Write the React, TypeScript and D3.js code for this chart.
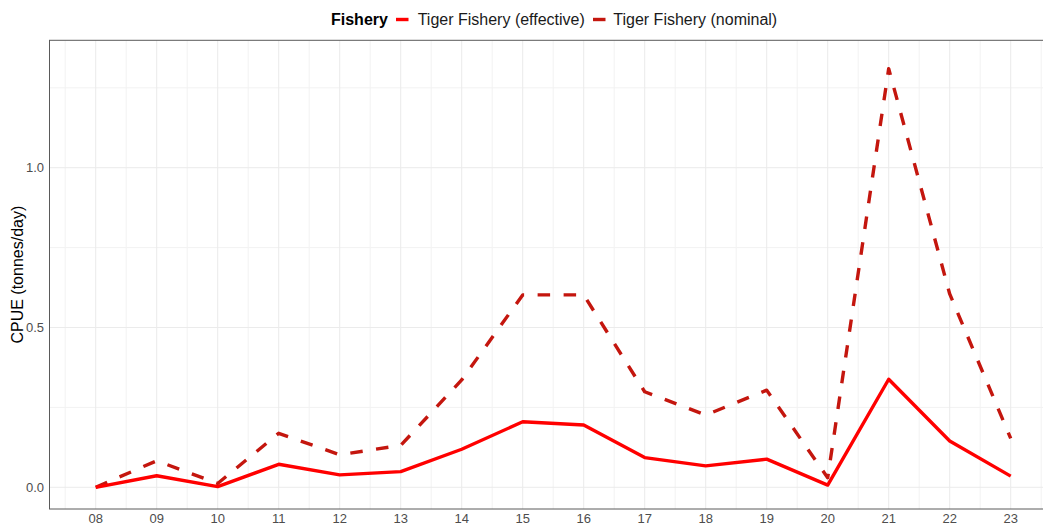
import React from "react";
import * as d3 from "d3";

const years = ["08","09","10","11","12","13","14","15","16","17","18","19","20","21","22","23"];
const effective = [0.0,0.036,0.002,0.072,0.039,0.049,0.119,0.205,0.195,0.093,0.067,0.088,0.007,0.338,0.145,0.035];
const nominal = [0.0,0.083,0.012,0.169,0.102,0.131,0.336,0.602,0.602,0.299,0.226,0.304,0.03,1.31,0.605,0.153];
const yTicks = [0, 0.5, 1.0];
const yMinor = [0.25, 0.75, 1.25];
const seriesNames = ["Tiger Fishery (effective)", "Tiger Fishery (nominal)"];

const W = 1043, H = 527;
const left = 49.5, top = 40.3, bottom = 509;

export default function App() {
  const x = d3.scaleLinear().domain([0, years.length - 1]).range([95.7, 95.7 + 61 * 15]);
  const right = x(15.75);
  const y = d3.scaleLinear().domain([0, 1]).range([487.3, 487.3 - 319.6]);
  const line = d3.line<number>().x((_, i) => x(i)).y((d) => y(d));
  const font = "Liberation Sans, Arial, sans-serif";
  const xMinor = d3.range(-0.5, 16, 1);
  return (
    <svg width={W} height={H} style={{ position: "absolute", left: 0, top: 0, background: "#fff" }} fontFamily={font}>
      <rect x={0} y={0} width={W} height={H} fill="#fff" />
      <defs>
        <clipPath id="panel"><rect x={left} y={top} width={right - left} height={bottom - top} /></clipPath>
      </defs>
      <g clipPath="url(#panel)">
        {xMinor.map((v) => (
          <line key={"xm" + v} x1={x(v)} x2={x(v)} y1={top} y2={bottom} stroke="#f2f2f2" strokeWidth={1} />
        ))}
        {yMinor.map((v) => (
          <line key={"ym" + v} x1={left} x2={right} y1={y(v)} y2={y(v)} stroke="#f2f2f2" strokeWidth={1} />
        ))}
        {years.map((_, i) => (
          <line key={"xg" + i} x1={x(i)} x2={x(i)} y1={top} y2={bottom} stroke="#ebebeb" strokeWidth={1} />
        ))}
        {yTicks.map((v) => (
          <line key={"yg" + v} x1={left} x2={right} y1={y(v)} y2={y(v)} stroke="#ebebeb" strokeWidth={1} />
        ))}
        <path d={line(nominal) || ""} fill="none" stroke="#C4160E" strokeWidth={3.4} strokeDasharray="12.5 13.5" strokeLinejoin="round" />
        <path d={line(effective) || ""} fill="none" stroke="#FF0000" strokeWidth={3.4} strokeLinejoin="round" />
      </g>
      <rect x={left} y={top} width={right - left} height={bottom - top} fill="none" stroke="#5a5a5a" strokeWidth={1} />
      {yTicks.map((v) => (
        <text key={"yt" + v} x={44} y={y(v)} dy="0.36em" textAnchor="end" fontSize={13} fill="#4d4d4d">{v.toFixed(1)}</text>
      ))}
      {years.map((lab, i) => (
        <text key={"xt" + i} x={x(i)} y={523.3} textAnchor="middle" fontSize={13} fill="#4d4d4d">{lab}</text>
      ))}
      <text transform={`translate(22.5,${(top + bottom) / 2}) rotate(-90)`} textAnchor="middle" fontSize={16} fill="#000">CPUE (tonnes/day)</text>
      <g>
        <text x={331} y={25} fontSize={16} fontWeight="bold" fill="#000">Fishery</text>
        <line x1={396} x2={408.5} y1={19.5} y2={19.5} stroke="#FF0000" strokeWidth={3.4} />
        <text x={417.7} y={25} fontSize={16} fill="#1a1a1a">{seriesNames[0]}</text>
        <line x1={593} x2={605.5} y1={19.5} y2={19.5} stroke="#C4160E" strokeWidth={3.4} />
        <text x={613.3} y={25} fontSize={16} fill="#1a1a1a">{seriesNames[1]}</text>
      </g>
    </svg>
  );
}
